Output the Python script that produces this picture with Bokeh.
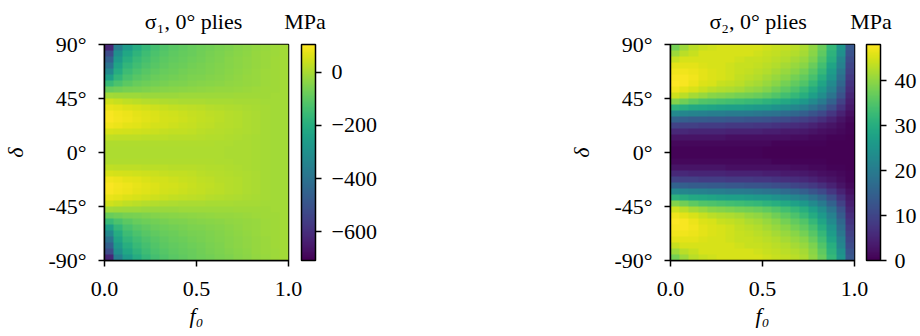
import numpy as np
from bokeh.plotting import figure
from bokeh.layouts import row
from bokeh.models import LinearColorMapper, ColorBar, FixedTicker, LinearAxis
from bokeh.palettes import Viridis256
from bokeh.embed import file_html
from bokeh.resources import INLINE

# ---------------- data ----------------
# cell centres of the sampled grid
F0 = [0.025, 0.075, 0.125, 0.175, 0.225, 0.275, 0.325, 0.375, 0.425, 0.475,
      0.525, 0.575, 0.625, 0.675, 0.725, 0.775, 0.825, 0.875, 0.925, 0.975]
DELTA = [-87.5, -82.5, -77.5, -72.5, -67.5, -62.5, -57.5, -52.5, -47.5, -42.5,
         -37.5, -32.5, -27.5, -22.5, -17.5, -12.5, -7.5, -2.5,
         2.5, 7.5, 12.5, 17.5, 22.5, 27.5, 32.5, 37.5, 42.5, 47.5,
         52.5, 57.5, 62.5, 67.5, 72.5, 77.5, 82.5, 87.5]

# sigma_1, 0 deg plies [MPa]; one row per DELTA value (bottom to top), one column per F0
S1 = [
    [-620, -360, -262, -205, -168, -140, -120, -104, -93, -84, -76, -68, -60, -52, -44, -36, -28, -20, -15, -10],
    [-520, -300, -225, -180, -148, -126, -110, -96, -88, -80, -72, -64, -56, -48, -40, -33, -26, -18, -14, -10],
    [-460, -265, -198, -162, -136, -118, -102, -92, -84, -76, -68, -60, -52, -45, -38, -32, -25, -18, -13, -10],
    [-400, -235, -175, -145, -122, -106, -94, -85, -78, -70, -63, -56, -49, -42, -36, -30, -24, -17, -13, -10],
    [-330, -205, -152, -126, -108, -95, -85, -77, -70, -64, -58, -52, -46, -40, -34, -28, -22, -16, -12, -10],
    [-250, -170, -128, -108, -93, -83, -75, -68, -62, -57, -52, -47, -42, -37, -31, -26, -21, -16, -12, -10],
    [-160, -125, -100, -86, -76, -68, -62, -57, -52, -48, -44, -40, -36, -32, -28, -24, -20, -15, -12, -10],
    [-80, -72, -64, -58, -52, -47, -43, -40, -37, -34, -31, -28, -26, -23, -21, -18, -15, -13, -11, -10],
    [-10, -12, -14, -16, -17, -17, -17, -17, -16, -16, -15, -15, -14, -14, -13, -13, -12, -11, -10, -10],
    [45, 35, 26, 19, 13, 9, 6, 4, 2, 1, 0, -1, -2, -3, -4, -5, -7, -8, -9, -10],
    [78, 70, 62, 54, 47, 41, 36, 31, 27, 23, 19, 15, 11, 7, 3, 0, -3, -6, -8, -10],
    [95, 88, 80, 72, 64, 57, 50, 44, 39, 34, 29, 24, 19, 14, 9, 4, 0, -4, -8, -10],
    [98, 91, 83, 75, 67, 60, 53, 47, 41, 35, 30, 25, 20, 15, 10, 5, 0, -4, -8, -10],
    [85, 79, 72, 66, 59, 53, 47, 42, 37, 32, 27, 23, 18, 13, 9, 4, 0, -4, -8, -10],
    [55, 52, 48, 45, 41, 38, 34, 31, 28, 25, 21, 18, 14, 11, 7, 4, 0, -4, -8, -10],
    [25, 24, 23, 22, 21, 20, 19, 18, 17, 16, 14, 12, 10, 8, 5, 2, -1, -4, -8, -10],
    [8, 8, 8, 8, 8, 8, 8, 8, 8, 8, 7, 6, 5, 4, 2, 0, -2, -5, -8, -10],
    [3, 3, 3, 4, 4, 4, 5, 5, 5, 5, 5, 4, 3, 2, 1, 0, -2, -5, -8, -10],
    [3, 3, 3, 4, 4, 4, 5, 5, 5, 5, 5, 4, 3, 2, 1, 0, -2, -5, -8, -10],
    [8, 8, 8, 8, 8, 8, 8, 8, 8, 8, 7, 6, 5, 4, 2, 0, -2, -5, -8, -10],
    [25, 24, 23, 22, 21, 20, 19, 18, 17, 16, 14, 12, 10, 8, 5, 2, -1, -4, -8, -10],
    [55, 52, 48, 45, 41, 38, 34, 31, 28, 25, 21, 18, 14, 11, 7, 4, 0, -4, -8, -10],
    [85, 79, 72, 66, 59, 53, 47, 42, 37, 32, 27, 23, 18, 13, 9, 4, 0, -4, -8, -10],
    [98, 91, 83, 75, 67, 60, 53, 47, 41, 35, 30, 25, 20, 15, 10, 5, 0, -4, -8, -10],
    [95, 88, 80, 72, 64, 57, 50, 44, 39, 34, 29, 24, 19, 14, 9, 4, 0, -4, -8, -10],
    [78, 70, 62, 54, 47, 41, 36, 31, 27, 23, 19, 15, 11, 7, 3, 0, -3, -6, -8, -10],
    [45, 35, 26, 19, 13, 9, 6, 4, 2, 1, 0, -1, -2, -3, -4, -5, -7, -8, -9, -10],
    [-10, -12, -14, -16, -17, -17, -17, -17, -16, -16, -15, -15, -14, -14, -13, -13, -12, -11, -10, -10],
    [-80, -72, -64, -58, -52, -47, -43, -40, -37, -34, -31, -28, -26, -23, -21, -18, -15, -13, -11, -10],
    [-160, -125, -100, -86, -76, -68, -62, -57, -52, -48, -44, -40, -36, -32, -28, -24, -20, -15, -12, -10],
    [-250, -170, -128, -108, -93, -83, -75, -68, -62, -57, -52, -47, -42, -37, -31, -26, -21, -16, -12, -10],
    [-330, -205, -152, -126, -108, -95, -85, -77, -70, -64, -58, -52, -46, -40, -34, -28, -22, -16, -12, -10],
    [-400, -235, -175, -145, -122, -106, -94, -85, -78, -70, -63, -56, -49, -42, -36, -30, -24, -17, -13, -10],
    [-460, -265, -198, -162, -136, -118, -102, -92, -84, -76, -68, -60, -52, -45, -38, -32, -25, -18, -13, -10],
    [-520, -300, -225, -180, -148, -126, -110, -96, -88, -80, -72, -64, -56, -48, -40, -33, -26, -18, -14, -10],
    [-620, -360, -262, -205, -168, -140, -120, -104, -93, -84, -76, -68, -60, -52, -44, -36, -28, -20, -15, -10],
]

# sigma_2, 0 deg plies [MPa]
S2 = [
    [38, 41, 43, 44, 44.5, 45, 45, 45, 45, 45, 44.5, 44, 43.5, 43, 42, 40, 37, 32, 25, 13],
    [41, 43, 44, 45, 45, 45, 45, 45, 45, 44.5, 44, 43.5, 43, 42.5, 41.5, 39.5, 36, 31, 24, 12],
    [44, 45, 45, 45, 45, 45, 45, 44.5, 44, 44, 43.5, 43, 42.5, 41.5, 40.5, 38.5, 35, 30, 22, 11],
    [46, 46, 46, 45.5, 45, 45, 44.5, 44, 44, 43.5, 43, 42.5, 41.5, 40.5, 39.5, 37, 33.5, 28, 21, 10],
    [47, 47, 46.5, 46, 45.5, 45, 44.5, 44, 43.5, 43, 42.5, 41.5, 40.5, 39.5, 38, 35.5, 32, 26.5, 19, 9],
    [47.5, 47.5, 47, 46, 45.5, 45, 44.5, 43.5, 43, 42.5, 41.5, 40.5, 39.5, 38, 36.5, 34, 30, 25, 17.5, 8],
    [48, 47.5, 46.5, 45.5, 45, 44, 43.5, 43, 42, 41.5, 40.5, 39.5, 38, 36.5, 35, 32, 28, 23, 16, 7],
    [47, 46, 45, 44, 43, 42.5, 42, 41.5, 40.5, 40, 39, 37.5, 36, 34.5, 32.5, 29.5, 26, 21, 14, 6],
    [44.5, 43, 41.5, 40.5, 39.5, 39, 38.5, 38, 37.5, 37, 36, 35, 33.5, 32, 30, 27, 23.5, 18.5, 12, 5],
    [39, 37.5, 36, 35, 34.5, 34, 33.5, 33, 32.5, 32, 31, 30, 29, 27.5, 25.5, 23, 19.5, 15, 9.5, 4],
    [31, 30, 29, 28.5, 28, 27.5, 27, 27, 26.5, 26, 25.5, 24.5, 23.5, 22, 20.5, 18, 15.5, 11.5, 7, 3],
    [22.5, 22, 21.5, 21, 20.5, 20.5, 20, 20, 19.5, 19, 18.5, 18, 17, 16, 14.5, 12.5, 10.5, 7.5, 4.5, 2],
    [15, 14.5, 14, 14, 13.5, 13.5, 13, 13, 12.5, 12.5, 12, 11.5, 11, 10, 9, 8, 6.5, 4.5, 2.5, 1],
    [9.5, 9, 9, 8.5, 8.5, 8.5, 8, 8, 8, 7.5, 7.5, 7, 6.5, 6, 5.5, 4.5, 3.5, 2.5, 1.5, 0.5],
    [5.5, 5.5, 5, 5, 5, 5, 4.5, 4.5, 4.5, 4.5, 4, 4, 3.5, 3.5, 3, 2.5, 2, 1.5, 1, 0.5],
    [2.5, 2.5, 2.5, 2.5, 2.5, 2.5, 2, 2, 2, 2, 2, 2, 2, 1.5, 1.5, 1, 1, 0.5, 0.5, 0],
    [1, 1, 1, 1, 1, 1, 1, 1, 1, 1, 1, 0.5, 0.5, 0.5, 0.5, 0.5, 0.5, 0, 0, 0],
    [0.5, 0.5, 0.5, 0.5, 0.5, 0.5, 0.5, 0.5, 0.5, 0.5, 0, 0, 0, 0, 0, 0, 0, 0, 0, 0],
    [0.5, 0.5, 0.5, 0.5, 0.5, 0.5, 0.5, 0.5, 0.5, 0.5, 0, 0, 0, 0, 0, 0, 0, 0, 0, 0],
    [1, 1, 1, 1, 1, 1, 1, 1, 1, 1, 1, 0.5, 0.5, 0.5, 0.5, 0.5, 0.5, 0, 0, 0],
    [2.5, 2.5, 2.5, 2.5, 2.5, 2.5, 2, 2, 2, 2, 2, 2, 2, 1.5, 1.5, 1, 1, 0.5, 0.5, 0],
    [5.5, 5.5, 5, 5, 5, 5, 4.5, 4.5, 4.5, 4.5, 4, 4, 3.5, 3.5, 3, 2.5, 2, 1.5, 1, 0.5],
    [9.5, 9, 9, 8.5, 8.5, 8.5, 8, 8, 8, 7.5, 7.5, 7, 6.5, 6, 5.5, 4.5, 3.5, 2.5, 1.5, 0.5],
    [15, 14.5, 14, 14, 13.5, 13.5, 13, 13, 12.5, 12.5, 12, 11.5, 11, 10, 9, 8, 6.5, 4.5, 2.5, 1],
    [22.5, 22, 21.5, 21, 20.5, 20.5, 20, 20, 19.5, 19, 18.5, 18, 17, 16, 14.5, 12.5, 10.5, 7.5, 4.5, 2],
    [31, 30, 29, 28.5, 28, 27.5, 27, 27, 26.5, 26, 25.5, 24.5, 23.5, 22, 20.5, 18, 15.5, 11.5, 7, 3],
    [39, 37.5, 36, 35, 34.5, 34, 33.5, 33, 32.5, 32, 31, 30, 29, 27.5, 25.5, 23, 19.5, 15, 9.5, 4],
    [44.5, 43, 41.5, 40.5, 39.5, 39, 38.5, 38, 37.5, 37, 36, 35, 33.5, 32, 30, 27, 23.5, 18.5, 12, 5],
    [47, 46, 45, 44, 43, 42.5, 42, 41.5, 40.5, 40, 39, 37.5, 36, 34.5, 32.5, 29.5, 26, 21, 14, 6],
    [48, 47.5, 46.5, 45.5, 45, 44, 43.5, 43, 42, 41.5, 40.5, 39.5, 38, 36.5, 35, 32, 28, 23, 16, 7],
    [47.5, 47.5, 47, 46, 45.5, 45, 44.5, 43.5, 43, 42.5, 41.5, 40.5, 39.5, 38, 36.5, 34, 30, 25, 17.5, 8],
    [47, 47, 46.5, 46, 45.5, 45, 44.5, 44, 43.5, 43, 42.5, 41.5, 40.5, 39.5, 38, 35.5, 32, 26.5, 19, 9],
    [46, 46, 46, 45.5, 45, 45, 44.5, 44, 44, 43.5, 43, 42.5, 41.5, 40.5, 39.5, 37, 33.5, 28, 21, 10],
    [44, 45, 45, 45, 45, 45, 45, 44.5, 44, 44, 43.5, 43, 42.5, 41.5, 40.5, 38.5, 35, 30, 22, 11],
    [41, 43, 44, 45, 45, 45, 45, 45, 45, 44.5, 44, 43.5, 43, 42.5, 41.5, 39.5, 36, 31, 24, 12],
    [38, 41, 43, 44, 44.5, 45, 45, 45, 45, 45, 44.5, 44, 43.5, 43, 42, 40, 37, 32, 25, 13],
]

S1_RANGE = (-708, 104)
S2_RANGE = (0, 48)

X_TICKS = [0.0, 0.5, 1.0]
X_LABELS = ["0.0", "0.5", "1.0"]
Y_TICKS = [-90, -45, 0, 45, 90]
Y_LABELS = ["-90°", "-45°", "0°", "45°", "90°"]
CB1_TICKS = [-600, -400, -200, 0]
CB1_LABELS = ["\u2212600", "\u2212400", "\u2212200", "0"]
CB2_TICKS = [0, 10, 20, 30, 40]
CB2_LABELS = ["0", "10", "20", "30", "40"]

TITLES = ["σ\u2081, 0° plies", "σ\u2082, 0° plies"]
UNIT = "MPa"

# ---------------- styling ----------------
FONT = "Liberation Serif"
FS = "22px"
H = 336
TOP = 44
FRAME_H = 216
NBSP = "\u00a0"


def panel(data, rng, title, ticks, labels, width, left, frame_w, cb_gap, cb_standoff, title_x):
    p = figure(width=width, height=H, x_range=(0, 1), y_range=(-90, 90),
               output_backend="svg", toolbar_location=None,
               min_border_left=left, min_border_right=width - left - frame_w,
               min_border_top=TOP, min_border_bottom=H - TOP - FRAME_H)
    mapper = LinearColorMapper(palette=Viridis256, low=rng[0], high=rng[1])
    p.image(image=[np.array(data, dtype=float)], x=0, y=-90, dw=1, dh=180,
            color_mapper=mapper)

    p.grid.visible = False
    p.outline_line_color = "black"
    p.outline_line_width = 1.5
    p.background_fill_color = "white"

    for ax in (p.xaxis[0], p.yaxis[0]):
        ax.axis_line_color = "black"
        ax.axis_line_width = 1.5
        ax.major_tick_line_color = "black"
        ax.major_tick_line_width = 1.5
        ax.major_tick_in = 0
        ax.major_tick_out = 6
        ax.minor_tick_line_color = None
        ax.major_label_text_font = FONT
        ax.major_label_text_font_size = FS
        ax.major_label_text_color = "black"
        ax.axis_label_text_font = FONT
        ax.axis_label_text_font_size = FS
        ax.axis_label_text_font_style = "italic"
        ax.axis_label_text_color = "black"

    p.xaxis.ticker = FixedTicker(ticks=X_TICKS)
    p.xaxis.major_label_overrides = dict(zip(X_TICKS, X_LABELS))
    p.xaxis.axis_label = "f\u2080"
    p.xaxis.major_label_standoff = 15
    p.xaxis.axis_label_standoff = 4
    p.yaxis.ticker = FixedTicker(ticks=Y_TICKS)
    p.yaxis.major_label_overrides = dict(zip(Y_TICKS, Y_LABELS))
    p.yaxis.axis_label = "δ"
    p.yaxis.major_label_standoff = 12
    p.yaxis.axis_label_standoff = 17

    # panel title and unit, written as labels of an undecorated top axis
    head = LinearAxis(ticker=FixedTicker(ticks=[title_x, 1.0]),
                      major_label_overrides={title_x: title, 1.0: NBSP * 6 + UNIT})
    head.axis_line_color = None
    head.major_tick_line_color = None
    head.minor_tick_line_color = None
    head.major_tick_in = 0
    head.major_tick_out = 0
    head.major_label_standoff = 11
    head.major_label_text_font = FONT
    head.major_label_text_font_size = FS
    head.major_label_text_color = "black"
    p.add_layout(head, "above")

    cb = ColorBar(color_mapper=mapper, ticker=FixedTicker(ticks=ticks),
                  major_label_overrides=dict(zip(ticks, labels)),
                  orientation="vertical", width=14, height=FRAME_H,
                  location=(frame_w + cb_gap, 0), padding=0, margin=0,
                  bar_line_color="black", bar_line_width=1.5,
                  major_tick_in=0, major_tick_out=6,
                  major_tick_line_color="black", major_tick_line_width=1.5,
                  minor_tick_line_color=None, label_standoff=cb_standoff,
                  background_fill_alpha=0, border_line_color=None)
    cb.major_label_text_font = FONT
    cb.major_label_text_font_size = FS
    cb.major_label_text_color = "black"
    p.add_layout(cb, "center")
    return p


p1 = panel(S1, S1_RANGE, TITLES[0], CB1_TICKS, CB1_LABELS, 460, 102, 186, 11, 10, 0.484)
p2 = panel(S2, S2_RANGE, TITLES[1], CB2_TICKS, CB2_LABELS, 460, 210, 184, 12, 8, 0.476)

layout = row(p1, p2)
open("out.html", "w").write(file_html(layout, INLINE))
